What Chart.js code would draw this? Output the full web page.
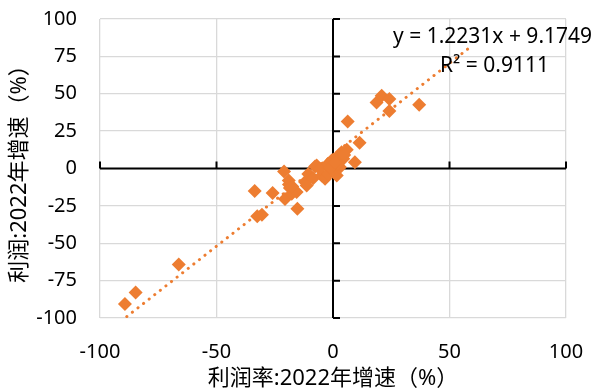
<!DOCTYPE html>
<html>
<head>
<meta charset="utf-8">
<script src="https://cdn.jsdelivr.net/npm/chart.js@4.4.1/dist/chart.umd.min.js"></script>
<style>
  html, body { margin: 0; padding: 0; background: #fff; }
  #wrap { width: 595px; height: 392px; }
</style>
</head>
<body>
<div id="wrap"><canvas id="canvas" width="595" height="392"></canvas></div>
<script>
// 利润率增速 (x) vs 利润增速 (y), 2022, %
const xValues = [-89.3, -84.7, -66.2, -33.6, -25.9, -32.5, -30.5, -21.0, -18.9, -18.5,
  -20.6, -15.3, -15.6, -17.7, -11.3, -12.0, -10.6, -7.7, -7.0, -4.8,
  -5.6, -3.4, -2.7, -2.0, -0.6, -0.6, 0.1, 1.6, 1.6, 3.0,
  3.0, 3.7, 4.4, 5.9, 9.4, 11.4, 6.3, 18.7, 20.9, 24.2,
  24.2, 37.0, -19.0, -17.5, -2.0, 2.2, -1.2, 0.8, 4.8, -8.5]
const yValues = [-90.7, -83.0, -64.2, -15.1, -16.4, -32.0, -31.0, -2.0, -10.7, -13.0,
  -20.4, -26.9, -15.8, -16.9, -11.3, -9.1, -3.6, 1.3, 2.0, -4.7,
  -0.2, -6.9, 2.0, 3.1, 5.3, -1.3, 2.0, 7.5, -4.7, 0.9,
  7.5, 10.9, 6.5, 12.6, 4.2, 17.2, 31.5, 44.2, 48.7, 46.5,
  38.5, 42.7, -8.0, -12.0, -3.6, 3.5, 0.5, 4.0, 9.0, -6.5]

// trendline from the label on the chart
const slope = 1.2231
const intercept = 9.1749
const trendX = [-88.5, 59.5]
const eqText = 'y = 1.2231x + 9.1749'
const r2Text = 'R² = 0.9111'

const xTicks = [-100, -50, 0, 50, 100]
const yTicks = [-100, -75, -50, -25, 0, 25, 50, 75, 100]

const xTitle = '利润率:2022年增速（%）'
const yTitle = '利润:2022年增速（%）'

const orange = '#ED7D31'
const fontFam = '"Noto Sans", "Noto Sans CJK SC", sans-serif'

let points = []
for (let i = 0; i < xValues.length; i++) {
  points.push({ x: xValues[i], y: yValues[i] })
}
let trend = trendX.map(function (x) { return { x: x, y: slope * x + intercept } })

// axes crossing at zero, with tick marks, plus the trendline label
const zeroAxes = {
  id: 'zeroAxes',
  beforeDatasetsDraw(chart) {
    const c = chart.ctx
    const xs = chart.scales.x
    const ys = chart.scales.y
    const x0 = xs.getPixelForValue(0)
    const y0 = ys.getPixelForValue(0)
    c.save()
    c.strokeStyle = '#000'
    c.lineWidth = 2
    c.beginPath()
    c.moveTo(xs.left, y0)
    c.lineTo(xs.right, y0)
    c.moveTo(x0, ys.top)
    c.lineTo(x0, ys.bottom)
    xTicks.forEach(function (v) {
      const px = xs.getPixelForValue(v)
      c.moveTo(px, y0)
      c.lineTo(px, y0 - 7)
    })
    yTicks.forEach(function (v) {
      const py = ys.getPixelForValue(v)
      c.moveTo(x0, py)
      c.lineTo(x0 + 7, py)
    })
    c.stroke()
    c.restore()
  },
  afterDraw(chart) {
    const c = chart.ctx
    c.save()
    c.fillStyle = '#000'
    c.font = '21px ' + fontFam
    c.textBaseline = 'middle'
    c.textAlign = 'left'
    c.fillText(eqText, 393, 37)
    c.fillText(r2Text, 440, 66)
    c.restore()
  }
}

new Chart(document.getElementById('canvas'), {
  type: 'scatter',
  data: {
    datasets: [{
      label: 'data',
      data: points,
      pointStyle: 'rectRot',
      pointRadius: 7,
      pointHoverRadius: 7,
      backgroundColor: orange,
      borderColor: orange,
      borderWidth: 0
    }, {
      label: 'trend',
      type: 'line',
      data: trend,
      borderColor: orange,
      borderWidth: 3,
      borderDash: [0.1, 7],
      borderCapStyle: 'round',
      pointRadius: 0,
      fill: false
    }]
  },
  options: {
    responsive: false,
    animation: false,
    layout: { padding: { left: 0, right: 29, top: 19, bottom: 0 } },
    plugins: { legend: { display: false }, tooltip: { enabled: false } },
    scales: {
      x: {
        type: 'linear',
        min: -100,
        max: 100,
        afterBuildTicks: function (s) { s.ticks = xTicks.map(function (v) { return { value: v } }) },
        afterFit: function (s) { s.height = 74; s.paddingLeft = 0; s.paddingRight = 0 },
        grid: { color: '#d9d9d9', lineWidth: 1.3, drawTicks: false },
        border: { display: false },
        ticks: { color: '#000', padding: 22, font: { size: 20, family: fontFam } },
        title: { display: true, text: xTitle, color: '#000', padding: { top: 0, bottom: 0 }, font: { size: 22, family: fontFam } }
      },
      y: {
        type: 'linear',
        min: -100,
        max: 100,
        afterBuildTicks: function (s) { s.ticks = yTicks.map(function (v) { return { value: v } }) },
        afterFit: function (s) { s.width = 100; s.paddingTop = 0; s.paddingBottom = 0 },
        grid: { color: '#d9d9d9', lineWidth: 1.3, drawTicks: false },
        border: { display: false },
        ticks: { color: '#000', padding: 23, font: { size: 20, family: fontFam } },
        title: { display: true, text: yTitle, color: '#000', padding: { top: 7, bottom: 0 }, font: { size: 22, family: fontFam } }
      }
    }
  },
  plugins: [zeroAxes]
})
</script>
</body>
</html>
